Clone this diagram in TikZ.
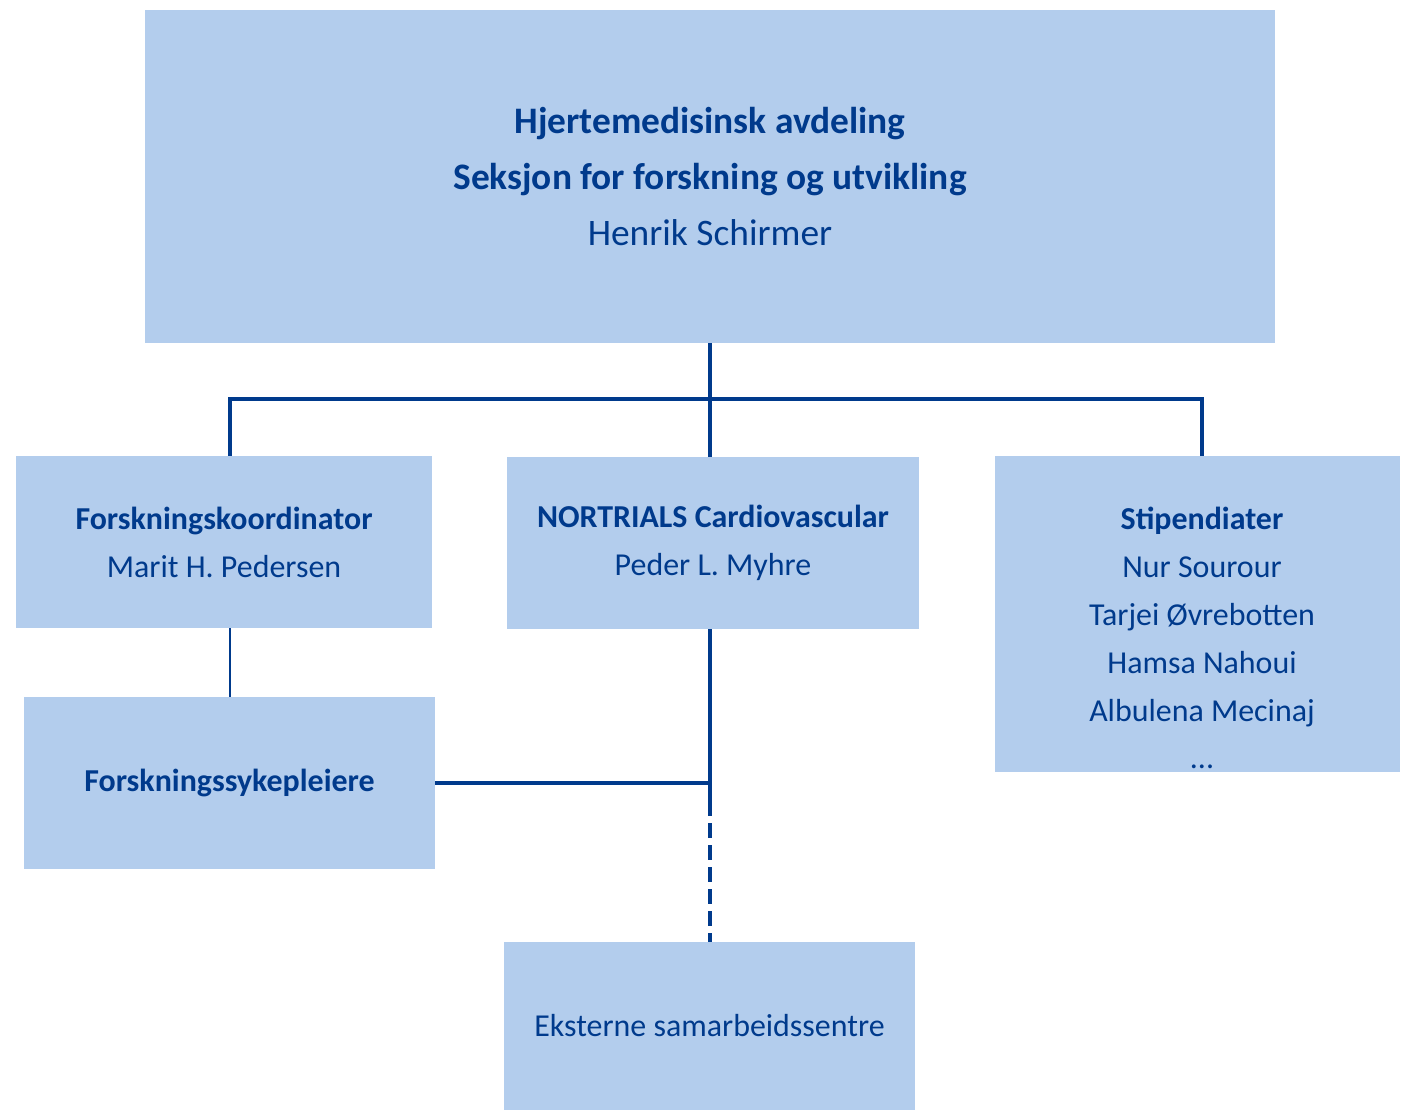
\documentclass[tikz,border=0pt]{standalone}
\usepackage{fontspec}
\setmainfont{Carlito}
\usepackage{tikz}
\definecolor{boxblue}{HTML}{B3CDED}
\definecolor{navy}{HTML}{003A8C}

\begin{document}
\begin{tikzpicture}[x=0.025cm,y=-0.025cm,
  unitbox/.style={fill=boxblue,inner sep=0pt,text=navy,align=center,
                  font=\fontsize{22.7}{34.1}\selectfont},
  headbox/.style={unitbox,font=\fontsize{26.6}{39.8}\selectfont},
  thickline/.style={draw=navy,line width=2.8pt},
  thinline/.style={draw=navy,line width=1.4pt},
  dashline/.style={thickline,dash pattern=on 10.7pt off 5pt}]
  \useasboundingbox (0,0) rectangle (1401,1111);

  \node [headbox,minimum width=28.25cm,minimum height=8.325cm] (top) at (710,176.5)
    {\textbf{Hjertemedisinsk avdeling}\\ \textbf{Seksjon for forskning og utvikling}\\ Henrik Schirmer};

  \node [unitbox,minimum width=10.4cm,minimum height=4.3cm] (koord) at (224,542)
    {\textbf{Forskningskoordinator}\\ Marit H. Pedersen};
  \node [unitbox,minimum width=10.3cm,minimum height=4.3cm] (nortrials) at (713,543)
    {\textbf{NORTRIALS Cardiovascular}\\ Peder L. Myhre};
  \node [unitbox,minimum width=10.125cm,minimum height=7.9cm] (stip) at (1197.5,614) {};
  \node [text=navy,align=center,font=\fontsize{22.7}{34.1}\selectfont] (stiptext) at (1202,638)
    {\textbf{Stipendiater}\\ Nur Sourour\\ Tarjei Øvrebotten\\ Hamsa Nahoui\\ Albulena Mecinaj\\ ...};
  \node [unitbox,minimum width=10.275cm,minimum height=4.3cm] (syke) at (229.5,783)
    {\textbf{Forskningssykepleiere}};
  \node [unitbox,minimum width=10.275cm,minimum height=4.2cm] (ekst) at (709.5,1026)
    {Eksterne samarbeidssentre};

  % tree lines
  \coordinate (barL) at (230,399);
  \coordinate (barR) at (1202,399);
  \coordinate (jct) at (710,783);
  \coordinate (dsh) at (710,801);
  \draw [thickline] (top.south) -- (top.south |- nortrials.north);
  \draw [thickline] (barL |- koord.north) -- (barL) -- (barR) -- (barR |- stip.north);
  \draw [thinline] (barL |- koord.south) -- (barL |- syke.north);
  \draw [thickline] (jct |- nortrials.south) -- (dsh);
  \draw [thickline] (syke.east) -- (jct);
  \draw [dashline] (dsh) -- (dsh |- ekst.north);
\end{tikzpicture}
\end{document}
